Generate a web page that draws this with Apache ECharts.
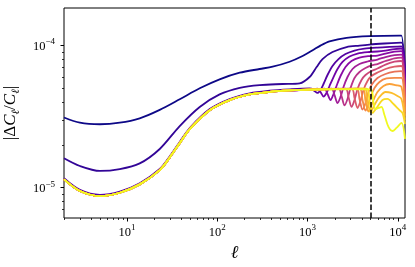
<!DOCTYPE html>
<html><head><meta charset="utf-8">
<script src="https://cdn.jsdelivr.net/npm/echarts@6/dist/echarts.min.js"></script>
<style>html,body{margin:0;padding:0;background:#fff}#c{width:415px;height:267px}</style>
</head><body><div id="c"></div>
<script>
// ---- axis ranges and ticks (data units) ----
const xRange = [2, 12000];
const yRange = [6.12e-6, 1.83e-4];
const xMajorTicks = [10, 100, 1000, 10000];
const xMajorLabels = ['1', '2', '3', '4'];
const yMajorTicks = [1e-5, 1e-4];
const yMajorLabels = ['\u22125', '\u22124'];
const xMinorTicks = [2,3,4,5,6,7,8,9,20,30,40,50,60,70,80,90,200,300,400,500,600,700,800,900,2000,3000,4000,5000,6000,7000,8000,9000];
const yMinorTicks = [7e-6,8e-6,9e-6,2e-5,3e-5,4e-5,5e-5,6e-5,7e-5,8e-5,9e-5];
const dashedEll = 5000;

// ---- line colours (plasma, dark -> yellow) ----
const curveColors = ['#0d0887','#320597','#5302a2','#6f02a7','#8a0ba5','#a21e99','#b93289','#cc4778','#db5c68','#e87258','#f38948','#fba139','#fcbd2c','#f9da24','#f0f921'];

// ---- curves: [ell, |dCl/Cl|] ----
const curve0 = [[2,3.11e-5],[3,2.86e-5],[5,2.79e-5],[8.3,2.86e-5],[13.8,3.07e-5],[23,3.52e-5],[38.3,4.18e-5],[63.8,4.99e-5],[106,5.77e-5],[177,6.42e-5],[294,6.82e-5],[410,7.08e-5],[632,7.67e-5],[880,8.41e-5],[1137,9.23e-5],[1400,1.0e-4],[1749,1.067e-4],[2700,1.13e-4],[4852,1.16e-4],[10420,1.17e-4],[10965,1.17e-4],[12000,6.0e-5]];
const curve1 = [[2,1.61e-5],[3,1.42e-5],[5,1.31e-5],[8.3,1.35e-5],[13.8,1.48e-5],[23,1.87e-5],[38.3,2.71e-5],[63.8,3.69e-5],[106,4.52e-5],[177,5.03e-5],[294,5.26e-5],[527,5.35e-5],[817,5.41e-5],[1052,5.99e-5],[1259,7.04e-5],[1463,8.01e-5],[1888,8.97e-5],[2704,9.73e-5],[3758,9.97e-5],[4852,1.013e-4],[7108,1.03e-4],[10965,1.046e-4],[12000,5.5e-5]];
const bundleUpper = [[2,1.164e-5],[3,9.64e-6],[5,8.89e-6],[8.3,9.38e-6],[13.8,1.074e-5],[23,1.352e-5],[29.7,1.66e-5],[38.3,2.094e-5],[49.4,2.624e-5],[82.4,3.565e-5],[137,4.198e-5],[228,4.603e-5],[380,4.797e-5],[632,4.909e-5],[1050,4.977e-5]];
const bundleLower = [[2,1.143e-5],[3,9.47e-6],[5,8.73e-6],[8.3,9.21e-6],[13.8,1.055e-5],[23,1.328e-5],[29.7,1.63e-5],[38.3,2.056e-5],[49.4,2.577e-5],[82.4,3.501e-5],[137,4.122e-5],[228,4.52e-5],[380,4.711e-5],[632,4.821e-5],[1050,4.888e-5]];
const tail2 = [[1105,4.97e-5],[1193,4.78e-5],[1288,4.63e-5],[1390,4.86e-5],[1501,5.35e-5],[1662,6.19e-5],[1888,7.16e-5],[2201,8.01e-5],[2630,8.69e-5],[3309,9.19e-5],[4270,9.47e-5],[5946,9.65e-5],[8077,9.76e-5],[10965,9.84e-5],[12000,5.0e-5]];
const tail3 = [[1288,4.97e-5],[1390,4.70e-5],[1501,4.37e-5],[1620,4.63e-5],[1749,5.18e-5],[1937,5.99e-5],[2145,6.82e-5],[2437,7.64e-5],[2914,8.34e-5],[3572,8.76e-5],[4609,8.97e-5],[5946,9.05e-5],[7294,9.19e-5],[9176,9.42e-5],[10965,9.50e-5],[12000,4.8e-5]];
const tail4 = [[1539,4.97e-5],[1662,4.55e-5],[1794,4.13e-5],[1937,4.55e-5],[2091,5.18e-5],[2315,6.09e-5],[2630,7.04e-5],[3065,7.76e-5],[3758,8.21e-5],[4852,8.41e-5],[5946,8.48e-5],[7294,8.76e-5],[9176,9.02e-5],[10965,9.12e-5],[12000,4.6e-5]];
const tail5 = [[1841,4.97e-5],[1987,4.48e-5],[2145,3.93e-5],[2315,4.34e-5],[2500,5.10e-5],[2768,5.99e-5],[3145,6.82e-5],[3758,7.39e-5],[4609,7.70e-5],[5946,7.95e-5],[7294,8.28e-5],[9176,8.55e-5],[10965,8.62e-5],[12000,4.4e-5]];
const tail6 = [[2201,4.97e-5],[2376,4.41e-5],[2565,3.78e-5],[2768,4.20e-5],[2989,5.01e-5],[3309,5.90e-5],[3758,6.50e-5],[4381,6.93e-5],[5106,7.22e-5],[5946,7.39e-5],[7294,7.76e-5],[9176,8.11e-5],[10965,8.21e-5],[12000,4.2e-5]];
const tail7 = [[2630,4.97e-5],[2840,4.34e-5],[3065,3.69e-5],[3309,4.13e-5],[3572,4.93e-5],[3956,5.71e-5],[4381,6.19e-5],[5106,6.60e-5],[5946,6.87e-5],[7294,7.33e-5],[9176,7.67e-5],[10965,7.76e-5],[12000,4.0e-5]];
const tail8 = [[3065,4.97e-5],[3309,4.27e-5],[3572,3.63e-5],[3855,4.06e-5],[4162,4.86e-5],[4609,5.62e-5],[5106,6.09e-5],[5946,6.44e-5],[7294,6.82e-5],[9176,7.08e-5],[10965,7.16e-5],[12000,3.8e-5]];
const tail9 = [[3482,4.97e-5],[3758,4.20e-5],[4057,3.54e-5],[4381,3.93e-5],[4729,4.70e-5],[5106,5.26e-5],[5946,5.90e-5],[7294,6.29e-5],[9176,6.53e-5],[10965,6.60e-5],[12000,3.6e-5]];
const tail10 = [[3758,4.97e-5],[4057,4.13e-5],[4381,3.48e-5],[4729,3.87e-5],[4977,4.34e-5],[5510,5.01e-5],[6259,5.53e-5],[7482,5.85e-5],[9176,5.90e-5],[10965,5.90e-5],[12000,3.4e-5]];
const tail11 = [[4057,4.97e-5],[4381,4.06e-5],[4729,3.43e-5],[4977,3.63e-5],[5370,4.13e-5],[5946,4.70e-5],[6931,5.18e-5],[8077,5.35e-5],[9410,5.26e-5],[10965,5.10e-5],[12000,3.2e-5]];
const tail12 = [[4270,4.97e-5],[4609,4.06e-5],[4977,3.40e-5],[5238,3.57e-5],[5652,3.93e-5],[6259,4.34e-5],[7294,4.70e-5],[8500,4.63e-5],[9904,4.41e-5],[10965,4.20e-5],[12000,3.0e-5]];
const tail13 = [[4494,4.97e-5],[4852,4.06e-5],[5238,3.35e-5],[5799,3.63e-5],[6756,4.13e-5],[7676,4.20e-5],[8944,3.87e-5],[10420,3.51e-5],[11250,3.35e-5],[12000,2.8e-5]];
const tail14 = [[2265,4.90e-5],[4977,4.90e-5],[5370,3.93e-5],[5652,3.57e-5],[6101,3.63e-5],[6586,3.69e-5],[7108,3.24e-5],[7873,2.67e-5],[8718,2.50e-5],[9654,2.63e-5],[10965,2.85e-5],[12000,2.2e-5]];

const curves = [
  curve0,
  curve1,
  bundleUpper.concat(tail2),
  bundleLower.concat(tail3),
  bundleLower.concat(tail4),
  bundleLower.concat(tail5),
  bundleLower.concat(tail6),
  bundleLower.concat(tail7),
  bundleLower.concat(tail8),
  bundleLower.concat(tail9),
  bundleLower.concat(tail10),
  bundleLower.concat(tail11),
  bundleLower.concat(tail12),
  bundleLower.concat(tail13),
  bundleLower.concat(tail14)
];

const L = Math.log10;
const serif = 'Liberation Serif';
const tickRich = {
  b: {fontFamily: serif, fontSize: 12.5, color: '#000', lineHeight: 16, verticalAlign: 'bottom'},
  s: {fontFamily: serif, fontSize: 9, color: '#000', lineHeight: 8, verticalAlign: 'top'}
};
function labelFor(ticks, labels) {
  return function (v) {
    let best = 0;
    for (let i = 0; i < ticks.length; i++) if (Math.abs(L(ticks[i]) - v) < Math.abs(L(ticks[best]) - v)) best = i;
    return '{b|10}{s|' + labels[best] + '}';
  };
}

const series = curves.map((c, i) => ({
  type: 'line',
  data: c.map(p => [L(p[0]), L(p[1])]),
  xAxisIndex: 0, yAxisIndex: 0,
  showSymbol: false, symbol: 'none',
  smooth: 0.3,
  lineStyle: {color: curveColors[i], width: 1.8},
  clip: true, silent: true
}));
series[series.length - 1].markLine = {
  silent: true, symbol: ['none', 'none'], label: {show: false},
  lineStyle: {color: '#000', width: 1.5, type: [5.5, 2.4]},
  data: [{xAxis: L(dashedEll)}]
};

const chart = echarts.init(document.getElementById('c'), null, {renderer: 'canvas'});
chart.setOption({
  animation: false,
  backgroundColor: '#fff',
  grid: {left: 64, right: 10, top: 8, bottom: 49, show: true, borderColor: '#000', borderWidth: 1, backgroundColor: 'transparent', containLabel: false, outerBoundsMode: 'none'},
  xAxis: [
    {type: 'value', min: L(xRange[0]), max: L(xRange[1]), gridIndex: 0,
     axisLine: {show: false}, splitLine: {show: false},
     axisTick: {show: true, customValues: xMajorTicks.map(L), length: 3.5, lineStyle: {color: '#000', width: 1}},
     axisLabel: {show: true, customValues: xMajorTicks.map(L), formatter: labelFor(xMajorTicks, xMajorLabels), margin: 5, rich: tickRich},
     name: '\u2113', nameLocation: 'middle', nameGap: 20,
     nameTextStyle: {fontFamily: 'DejaVu Serif', fontStyle: 'italic', fontSize: 18, color: '#000'}},
    {type: 'value', min: L(xRange[0]), max: L(xRange[1]), gridIndex: 0, position: 'bottom',
     axisLine: {show: false}, splitLine: {show: false}, axisLabel: {show: false},
     axisTick: {show: true, customValues: xMinorTicks.map(L), length: 2, lineStyle: {color: '#000', width: 0.8}}}
  ],
  yAxis: [
    {type: 'value', min: L(yRange[0]), max: L(yRange[1]), gridIndex: 0,
     axisLine: {show: false}, splitLine: {show: false},
     axisTick: {show: true, customValues: yMajorTicks.map(L), length: 3.5, lineStyle: {color: '#000', width: 1}},
     axisLabel: {show: true, customValues: yMajorTicks.map(L), formatter: labelFor(yMajorTicks, yMajorLabels), margin: 9, rich: tickRich},
     name: '{n||\u0394}{i|C}{sub|\u2113}{n|/}{i|C}{sub|\u2113}{n||}', nameLocation: 'middle', nameGap: 40, nameRotate: 90,
     nameTextStyle: {rich: {
       n: {fontFamily: serif, fontSize: 17, color: '#000', lineHeight: 20, verticalAlign: 'top'},
       i: {fontFamily: serif, fontStyle: 'italic', fontSize: 17, color: '#000', lineHeight: 20, verticalAlign: 'top'},
       sub: {fontFamily: 'DejaVu Serif', fontStyle: 'italic', fontSize: 11, color: '#000', lineHeight: 13, verticalAlign: 'bottom'}
     }}},
    {type: 'value', min: L(yRange[0]), max: L(yRange[1]), gridIndex: 0, position: 'left',
     axisLine: {show: false}, splitLine: {show: false}, axisLabel: {show: false},
     axisTick: {show: true, customValues: yMinorTicks.map(L), length: 2, lineStyle: {color: '#000', width: 0.8}}}
  ],
  series: series
});
</script>
</body></html>
